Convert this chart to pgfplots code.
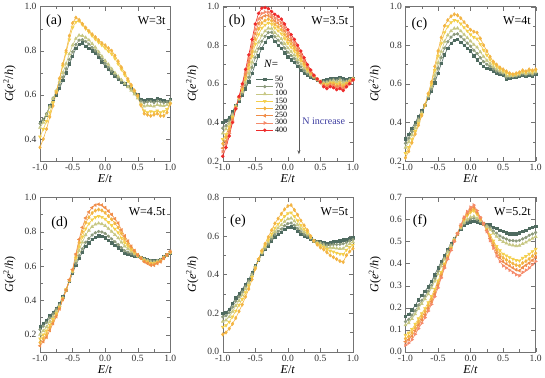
\documentclass[border=0pt]{standalone}
\usepackage{fontspec}
\setmainfont{Liberation Serif}
\usepackage{pgfplots}
\usepackage{pgfplotstable}
\pgfplotsset{compat=1.18}
\usepgfplotslibrary{groupplots}
\usetikzlibrary{arrows.meta}

\definecolor{c50}{HTML}{4F6B60}
\definecolor{c70}{HTML}{8C9A7C}
\definecolor{c100}{HTML}{C7C783}
\definecolor{c150}{HTML}{F4CF4C}
\definecolor{c200}{HTML}{F3B443}
\definecolor{c250}{HTML}{F08C48}
\definecolor{c300}{HTML}{F58A6A}
\definecolor{c400}{HTML}{EE2B2B}
\definecolor{annblue}{HTML}{3C3CA0}

\pgfplotsset{
  s50/.style={color=c50, mark=square*, mark size=1.2pt},
  s70/.style={color=c70, mark=*, mark size=1.3pt},
  s100/.style={color=c100, mark=triangle*, mark size=1.6pt},
  s150/.style={color=c150, mark=triangle*, mark size=1.6pt, mark options={rotate=180}},
  s200/.style={color=c200, mark=diamond*, mark size=1.6pt},
  s250/.style={color=c250, mark=triangle*, mark size=1.6pt, mark options={rotate=90}},
  s300/.style={color=c300, mark=triangle*, mark size=1.6pt, mark options={rotate=-90}},
  s400/.style={color=c400, mark=*, mark size=1.4pt},
}

% panel (a) W=3t
\pgfplotstableread{
x n50 n70 n100 n150 n200
-1.00 0.476 0.470 0.452 0.410 0.362
-0.95 0.490 0.488 0.475 0.445 0.400
-0.90 0.510 0.515 0.508 0.480 0.445
-0.85 0.550 0.548 0.545 0.520 0.500
-0.80 0.580 0.585 0.582 0.565 0.550
-0.75 0.600 0.612 0.620 0.615 0.610
-0.70 0.630 0.645 0.660 0.672 0.675
-0.65 0.665 0.680 0.700 0.730 0.740
-0.60 0.700 0.718 0.742 0.790 0.800
-0.55 0.740 0.760 0.785 0.850 0.868
-0.50 0.775 0.795 0.825 0.905 0.925
-0.45 0.810 0.828 0.855 0.930 0.950
-0.40 0.830 0.848 0.870 0.935 0.940
-0.35 0.835 0.850 0.868 0.918 0.922
-0.30 0.820 0.842 0.860 0.900 0.905
-0.25 0.812 0.830 0.848 0.885 0.890
-0.20 0.800 0.815 0.832 0.868 0.875
-0.15 0.790 0.800 0.815 0.852 0.862
-0.10 0.770 0.782 0.795 0.838 0.848
-0.05 0.750 0.762 0.775 0.825 0.835
0.00 0.730 0.742 0.755 0.812 0.825
0.05 0.715 0.725 0.738 0.798 0.812
0.10 0.700 0.708 0.718 0.785 0.800
0.15 0.685 0.692 0.700 0.765 0.778
0.20 0.670 0.676 0.684 0.740 0.752
0.25 0.660 0.664 0.668 0.715 0.725
0.30 0.650 0.650 0.652 0.690 0.700
0.35 0.640 0.638 0.636 0.662 0.672
0.40 0.630 0.625 0.620 0.638 0.645
0.45 0.615 0.610 0.603 0.615 0.620
0.50 0.600 0.592 0.585 0.592 0.598
0.55 0.580 0.572 0.560 0.555 0.552
0.60 0.575 0.565 0.548 0.528 0.515
0.65 0.580 0.568 0.552 0.520 0.510
0.70 0.580 0.570 0.550 0.525 0.505
0.75 0.575 0.565 0.548 0.522 0.510
0.80 0.585 0.572 0.555 0.528 0.515
0.85 0.580 0.568 0.552 0.520 0.505
0.90 0.575 0.565 0.550 0.525 0.505
0.95 0.570 0.568 0.555 0.535 0.520
1.00 0.580 0.575 0.565 0.560 0.560
}\tabA

% panel (b) W=3.5t
\pgfplotstableread{
x n50 n70 n100 n150 n200 n250 n300 n400
-1.00 0.400 0.370 0.344 0.313 0.290 0.267 0.248 0.225
-0.95 0.412 0.384 0.366 0.338 0.323 0.302 0.290 0.270
-0.90 0.425 0.409 0.395 0.378 0.365 0.353 0.342 0.330
-0.85 0.455 0.446 0.437 0.428 0.420 0.413 0.407 0.400
-0.80 0.490 0.487 0.484 0.480 0.477 0.475 0.473 0.470
-0.75 0.512 0.518 0.521 0.525 0.528 0.530 0.532 0.535
-0.70 0.540 0.550 0.559 0.570 0.578 0.586 0.592 0.600
-0.65 0.575 0.592 0.607 0.625 0.638 0.651 0.662 0.675
-0.60 0.610 0.634 0.655 0.680 0.698 0.716 0.732 0.750
-0.55 0.655 0.685 0.711 0.743 0.765 0.788 0.807 0.830
-0.50 0.700 0.736 0.767 0.805 0.832 0.860 0.883 0.910
-0.45 0.745 0.782 0.815 0.855 0.884 0.912 0.936 0.965
-0.40 0.785 0.820 0.851 0.889 0.915 0.942 0.965 0.992
-0.35 0.815 0.846 0.873 0.905 0.928 0.952 0.972 0.995
-0.30 0.840 0.866 0.888 0.915 0.935 0.954 0.971 0.990
-0.25 0.845 0.867 0.887 0.910 0.927 0.944 0.958 0.975
-0.20 0.820 0.844 0.865 0.890 0.908 0.926 0.942 0.960
-0.15 0.800 0.826 0.848 0.875 0.895 0.914 0.931 0.950
-0.10 0.785 0.811 0.833 0.860 0.880 0.899 0.916 0.935
-0.05 0.760 0.786 0.808 0.835 0.855 0.874 0.891 0.910
0.00 0.740 0.764 0.785 0.810 0.828 0.846 0.862 0.880
0.05 0.725 0.747 0.767 0.790 0.807 0.824 0.838 0.855
0.10 0.710 0.730 0.748 0.770 0.786 0.801 0.814 0.830
0.15 0.690 0.709 0.725 0.745 0.759 0.774 0.786 0.800
0.20 0.670 0.687 0.702 0.720 0.733 0.746 0.757 0.770
0.25 0.655 0.669 0.681 0.695 0.705 0.716 0.725 0.735
0.30 0.645 0.654 0.663 0.673 0.680 0.687 0.693 0.700
0.35 0.635 0.641 0.647 0.654 0.658 0.663 0.667 0.672
0.40 0.630 0.633 0.635 0.638 0.639 0.641 0.643 0.645
0.45 0.620 0.621 0.622 0.623 0.623 0.624 0.624 0.625
0.50 0.610 0.612 0.608 0.611 0.606 0.613 0.609 0.610
0.55 0.615 0.610 0.605 0.600 0.596 0.592 0.589 0.585
0.60 0.620 0.612 0.606 0.598 0.592 0.586 0.581 0.575
0.65 0.625 0.618 0.612 0.605 0.600 0.595 0.590 0.585
0.70 0.630 0.622 0.614 0.605 0.599 0.592 0.587 0.580
0.75 0.628 0.618 0.609 0.599 0.591 0.584 0.578 0.570
0.80 0.635 0.625 0.616 0.605 0.597 0.589 0.583 0.575
0.85 0.625 0.615 0.606 0.595 0.587 0.579 0.573 0.565
0.90 0.620 0.614 0.609 0.603 0.598 0.593 0.590 0.585
0.95 0.625 0.621 0.617 0.613 0.609 0.606 0.603 0.600
1.00 0.630 0.628 0.627 0.625 0.624 0.622 0.621 0.620
}\tabB

% panel (c) W=4t
\pgfplotstableread{
x n50 n70 n100 n150 n200
-1.00 0.315 0.292 0.270 0.240 0.217
-0.95 0.340 0.319 0.299 0.271 0.250
-0.90 0.370 0.353 0.336 0.312 0.295
-0.85 0.400 0.386 0.372 0.354 0.340
-0.80 0.430 0.420 0.409 0.395 0.385
-0.75 0.460 0.454 0.449 0.441 0.435
-0.70 0.490 0.492 0.487 0.491 0.490
-0.65 0.525 0.531 0.537 0.544 0.550
-0.60 0.560 0.572 0.583 0.599 0.610
-0.55 0.605 0.625 0.644 0.670 0.690
-0.50 0.655 0.681 0.708 0.744 0.770
-0.45 0.705 0.736 0.767 0.809 0.840
-0.40 0.750 0.785 0.819 0.866 0.900
-0.35 0.785 0.818 0.852 0.897 0.930
-0.30 0.810 0.842 0.874 0.918 0.950
-0.25 0.825 0.856 0.887 0.929 0.960
-0.20 0.830 0.859 0.888 0.926 0.955
-0.15 0.815 0.844 0.873 0.911 0.940
-0.10 0.800 0.828 0.855 0.892 0.920
-0.05 0.785 0.811 0.838 0.874 0.900
0.00 0.770 0.795 0.821 0.855 0.880
0.05 0.745 0.774 0.803 0.841 0.870
0.10 0.725 0.757 0.789 0.833 0.865
0.15 0.705 0.735 0.765 0.805 0.835
0.20 0.690 0.715 0.741 0.775 0.800
0.25 0.680 0.701 0.721 0.749 0.770
0.30 0.675 0.690 0.705 0.725 0.740
0.35 0.665 0.677 0.688 0.704 0.715
0.40 0.655 0.665 0.676 0.690 0.700
0.45 0.650 0.658 0.666 0.677 0.685
0.50 0.645 0.652 0.659 0.668 0.675
0.55 0.625 0.634 0.643 0.656 0.665
0.60 0.630 0.636 0.642 0.649 0.655
0.65 0.635 0.638 0.642 0.647 0.650
0.70 0.635 0.640 0.644 0.650 0.655
0.75 0.640 0.645 0.649 0.655 0.660
0.80 0.645 0.651 0.657 0.664 0.670
0.85 0.640 0.646 0.652 0.659 0.665
0.90 0.645 0.652 0.659 0.668 0.675
0.95 0.640 0.647 0.654 0.663 0.670
1.00 0.650 0.656 0.662 0.669 0.675
}\tabC

% panel (d) W=4.5t
\pgfplotstableread{
x n50 n70 n100 n150 n200 n250
-1.00 0.245 0.230 0.201 0.177 0.154 0.135
-0.95 0.265 0.250 0.223 0.200 0.178 0.160
-0.90 0.285 0.271 0.245 0.223 0.202 0.185
-0.85 0.310 0.298 0.276 0.257 0.239 0.225
-0.80 0.330 0.321 0.304 0.290 0.276 0.265
-0.75 0.355 0.348 0.335 0.324 0.314 0.305
-0.70 0.380 0.376 0.368 0.361 0.355 0.350
-0.65 0.420 0.418 0.414 0.411 0.408 0.405
-0.60 0.460 0.462 0.457 0.463 0.458 0.460
-0.55 0.510 0.511 0.514 0.516 0.518 0.520
-0.50 0.560 0.563 0.568 0.572 0.577 0.580
-0.45 0.605 0.614 0.631 0.645 0.659 0.670
-0.40 0.645 0.660 0.689 0.713 0.736 0.755
-0.35 0.680 0.700 0.738 0.770 0.800 0.825
-0.30 0.715 0.738 0.781 0.817 0.852 0.880
-0.25 0.735 0.760 0.807 0.847 0.884 0.915
-0.20 0.755 0.781 0.829 0.870 0.909 0.940
-0.15 0.768 0.794 0.843 0.884 0.923 0.955
-0.10 0.775 0.801 0.849 0.890 0.929 0.960
-0.05 0.772 0.798 0.845 0.885 0.924 0.955
0.00 0.765 0.790 0.835 0.874 0.910 0.940
0.05 0.750 0.774 0.818 0.855 0.891 0.920
0.10 0.735 0.758 0.801 0.837 0.872 0.900
0.15 0.720 0.742 0.782 0.816 0.849 0.875
0.20 0.705 0.725 0.763 0.795 0.825 0.850
0.25 0.690 0.707 0.738 0.764 0.790 0.810
0.30 0.675 0.689 0.715 0.737 0.758 0.775
0.35 0.670 0.681 0.700 0.717 0.732 0.745
0.40 0.665 0.672 0.685 0.696 0.707 0.715
0.45 0.660 0.664 0.672 0.679 0.685 0.690
0.50 0.655 0.656 0.659 0.661 0.663 0.665
0.55 0.650 0.649 0.648 0.647 0.646 0.645
0.60 0.645 0.642 0.637 0.633 0.628 0.625
0.65 0.640 0.636 0.630 0.625 0.619 0.615
0.70 0.635 0.631 0.623 0.616 0.610 0.605
0.75 0.632 0.628 0.621 0.615 0.610 0.605
0.80 0.635 0.632 0.627 0.623 0.618 0.615
0.85 0.640 0.638 0.634 0.631 0.628 0.625
0.90 0.655 0.654 0.651 0.649 0.647 0.645
0.95 0.665 0.667 0.663 0.666 0.664 0.665
1.00 0.675 0.676 0.679 0.681 0.683 0.685
}\tabD

% panel (e) W=5t
\pgfplotstableread{
x n50 n70 n100 n150 n200
-1.00 0.200 0.181 0.157 0.129 0.090
-0.95 0.205 0.187 0.164 0.137 0.100
-0.90 0.220 0.203 0.181 0.155 0.120
-0.85 0.250 0.232 0.209 0.182 0.145
-0.80 0.280 0.262 0.239 0.212 0.175
-0.75 0.300 0.285 0.265 0.242 0.210
-0.70 0.325 0.311 0.294 0.273 0.245
-0.65 0.350 0.339 0.325 0.308 0.285
-0.60 0.375 0.367 0.356 0.343 0.325
-0.55 0.410 0.404 0.396 0.387 0.375
-0.50 0.445 0.442 0.439 0.435 0.430
-0.45 0.475 0.476 0.477 0.478 0.480
-0.40 0.505 0.508 0.513 0.518 0.525
-0.35 0.530 0.535 0.542 0.550 0.560
-0.30 0.550 0.558 0.568 0.579 0.595
-0.25 0.575 0.584 0.596 0.611 0.630
-0.20 0.595 0.607 0.622 0.641 0.665
-0.15 0.610 0.624 0.641 0.662 0.690
-0.10 0.620 0.636 0.657 0.682 0.715
-0.05 0.635 0.653 0.675 0.702 0.738
0.00 0.645 0.664 0.688 0.717 0.755
0.05 0.648 0.667 0.692 0.721 0.760
0.10 0.640 0.656 0.677 0.702 0.735
0.15 0.625 0.639 0.658 0.680 0.710
0.20 0.610 0.622 0.637 0.656 0.680
0.25 0.600 0.609 0.621 0.636 0.655
0.30 0.595 0.601 0.609 0.618 0.630
0.35 0.585 0.588 0.591 0.595 0.600
0.40 0.575 0.577 0.573 0.576 0.575
0.45 0.572 0.569 0.565 0.561 0.555
0.50 0.570 0.565 0.558 0.551 0.540
0.55 0.565 0.559 0.551 0.542 0.530
0.60 0.560 0.552 0.542 0.531 0.515
0.65 0.565 0.554 0.540 0.523 0.500
0.70 0.570 0.556 0.539 0.518 0.490
0.75 0.572 0.556 0.536 0.512 0.480
0.80 0.575 0.557 0.534 0.507 0.470
0.85 0.580 0.560 0.535 0.505 0.465
0.90 0.580 0.566 0.549 0.528 0.500
0.95 0.585 0.574 0.560 0.543 0.520
1.00 0.590 0.581 0.569 0.554 0.535
}\tabE

% panel (f) W=5.2t
\pgfplotstableread{
x n50 n70 n100 n150 n200 n250 n300
-1.00 0.160 0.137 0.121 0.076 0.060 0.046 0.030
-0.95 0.170 0.147 0.131 0.086 0.070 0.056 0.040
-0.90 0.190 0.166 0.150 0.102 0.086 0.071 0.055
-0.85 0.210 0.187 0.171 0.126 0.110 0.096 0.080
-0.80 0.235 0.212 0.196 0.151 0.135 0.121 0.105
-0.75 0.255 0.233 0.218 0.174 0.159 0.145 0.130
-0.70 0.275 0.253 0.239 0.197 0.183 0.169 0.155
-0.65 0.295 0.275 0.262 0.224 0.210 0.198 0.185
-0.60 0.320 0.301 0.289 0.252 0.239 0.228 0.215
-0.55 0.350 0.332 0.320 0.285 0.273 0.262 0.250
-0.50 0.380 0.364 0.353 0.322 0.311 0.301 0.290
-0.45 0.410 0.397 0.388 0.361 0.352 0.344 0.335
-0.40 0.435 0.425 0.419 0.399 0.393 0.387 0.380
-0.35 0.465 0.457 0.452 0.436 0.430 0.425 0.420
-0.30 0.490 0.485 0.481 0.471 0.467 0.464 0.460
-0.25 0.515 0.512 0.511 0.505 0.503 0.502 0.500
-0.20 0.535 0.537 0.533 0.536 0.534 0.537 0.535
-0.15 0.555 0.559 0.561 0.568 0.570 0.573 0.575
-0.10 0.575 0.581 0.586 0.598 0.602 0.606 0.610
-0.05 0.585 0.594 0.600 0.618 0.624 0.629 0.635
0.00 0.590 0.602 0.610 0.632 0.640 0.647 0.655
0.05 0.592 0.605 0.614 0.639 0.648 0.656 0.665
0.10 0.590 0.599 0.605 0.623 0.629 0.634 0.640
0.15 0.585 0.590 0.593 0.601 0.604 0.607 0.610
0.20 0.580 0.582 0.578 0.581 0.579 0.582 0.580
0.25 0.578 0.572 0.568 0.557 0.553 0.549 0.545
0.30 0.575 0.562 0.554 0.530 0.521 0.513 0.505
0.35 0.565 0.548 0.537 0.503 0.492 0.481 0.470
0.40 0.560 0.538 0.523 0.479 0.464 0.450 0.435
0.45 0.550 0.525 0.508 0.459 0.442 0.427 0.410
0.50 0.545 0.517 0.499 0.444 0.426 0.409 0.390
0.55 0.540 0.511 0.492 0.436 0.417 0.399 0.380
0.60 0.535 0.505 0.486 0.428 0.408 0.390 0.370
0.65 0.535 0.504 0.483 0.421 0.400 0.381 0.360
0.70 0.535 0.502 0.480 0.415 0.393 0.372 0.350
0.75 0.540 0.505 0.482 0.413 0.390 0.368 0.345
0.80 0.545 0.512 0.490 0.425 0.403 0.382 0.360
0.85 0.550 0.518 0.496 0.433 0.411 0.392 0.370
0.90 0.560 0.528 0.506 0.443 0.421 0.402 0.380
0.95 0.565 0.534 0.514 0.455 0.434 0.415 0.395
1.00 0.570 0.541 0.522 0.466 0.447 0.429 0.410
}\tabF

\begin{document}
\begin{tikzpicture}
\begin{groupplot}[
  group style={group size=3 by 2, horizontal sep=52bp, vertical sep=36bp},
  scale only axis,
  width=129bp, height=153bp,
  xmin=-1, xmax=1,
  xtick={-1,-0.5,0,0.5,1},
  minor x tick num=1,
  tick align=inside,
  xtick pos=both, ytick pos=both,
  xticklabel pos=bottom, yticklabel pos=left,
  axis line style={black!55},
  tick style={black!55},
  /pgf/number format/assume math mode=true,
  xticklabel style={/pgf/number format/.cd, fixed, fixed zerofill, precision=1},
  yticklabel style={/pgf/number format/.cd, fixed, fixed zerofill, precision=1},
  tick label style={font=\fontsize{9.5}{9.5}\selectfont, text=black!80},
  label style={font=\fontsize{12}{12}\selectfont},
  xlabel={\textit{E}/\textit{t}},
  ylabel={\textit{G}(\textit{e}\textsuperscript{2}/\textit{h})},
  xlabel style={yshift=3pt},
  ylabel style={yshift=2pt},
  every axis plot/.append style={line width=0.6pt},
]
% (a)
\nextgroupplot[ymin=0.3, ymax=1.0, ytick={0.4,0.6,0.8,1.0}, minor y tick num=1]
\addplot[s50] table[x=x, y=n50] {\tabA};
\addplot[s70] table[x=x, y=n70] {\tabA};
\addplot[s100] table[x=x, y=n100] {\tabA};
\addplot[s150] table[x=x, y=n150] {\tabA};
\addplot[s200] table[x=x, y=n200] {\tabA};
\node[anchor=north west, font=\fontsize{14}{14}\selectfont] at (rel axis cs:0.02,0.97) {(a)};
\node[anchor=north east, font=\fontsize{12}{12}\selectfont] at (rel axis cs:0.99,0.96) {W=3t};
% (b)
\nextgroupplot[ymin=0.2, ymax=1.0, ytick={0.2,0.4,0.6,0.8,1.0}, minor y tick num=1,
  legend style={draw=none, fill=none, at={(axis cs:-0.54,0.66)}, anchor=north west,
    font=\fontsize{8}{8}\selectfont, row sep=-2.6pt, legend cell align=left,
    nodes={inner sep=1.5pt}}]
\addplot[s50] table[x=x, y=n50] {\tabB}; \addlegendentry{50}
\addplot[s70] table[x=x, y=n70] {\tabB}; \addlegendentry{70}
\addplot[s100] table[x=x, y=n100] {\tabB}; \addlegendentry{100}
\addplot[s150] table[x=x, y=n150] {\tabB}; \addlegendentry{150}
\addplot[s200] table[x=x, y=n200] {\tabB}; \addlegendentry{200}
\addplot[s250] table[x=x, y=n250] {\tabB}; \addlegendentry{250}
\addplot[s300] table[x=x, y=n300] {\tabB}; \addlegendentry{300}
\addplot[s400] table[x=x, y=n400] {\tabB}; \addlegendentry{400}
\node[anchor=north west, font=\fontsize{14}{14}\selectfont] at (rel axis cs:0.02,0.97) {(b)};
\node[anchor=north east, font=\fontsize{12}{12}\selectfont] at (rel axis cs:0.99,0.96) {W=3.5t};
\node[anchor=west, font=\fontsize{11}{11}\selectfont] at (axis cs:-0.42,0.705) {\textit{N}=};
\draw[-{Stealth[length=4pt]}, black!65, line width=0.6pt] (axis cs:0.17,0.69) -- (axis cs:0.17,0.235);
\node[anchor=west, text=annblue, font=\fontsize{10}{10}\selectfont, inner sep=0pt] at (axis cs:0.22,0.405) {N increase};
% (c)
\nextgroupplot[ymin=0.2, ymax=1.0, ytick={0.2,0.4,0.6,0.8,1.0}, minor y tick num=1]
\addplot[s50] table[x=x, y=n50] {\tabC};
\addplot[s70] table[x=x, y=n70] {\tabC};
\addplot[s100] table[x=x, y=n100] {\tabC};
\addplot[s150] table[x=x, y=n150] {\tabC};
\addplot[s200] table[x=x, y=n200] {\tabC};
\node[anchor=north west, font=\fontsize{14}{14}\selectfont] at (rel axis cs:0.02,0.95) {(c)};
\node[anchor=north east, font=\fontsize{12}{12}\selectfont] at (rel axis cs:0.99,0.96) {W=4t};
% (d)
\nextgroupplot[ymin=0.1, ymax=1.0, ytick={0.2,0.4,0.6,0.8,1.0}, minor y tick num=1]
\addplot[s50] table[x=x, y=n50] {\tabD};
\addplot[s70] table[x=x, y=n70] {\tabD};
\addplot[s100] table[x=x, y=n100] {\tabD};
\addplot[s150] table[x=x, y=n150] {\tabD};
\addplot[s200] table[x=x, y=n200] {\tabD};
\addplot[s250] table[x=x, y=n250] {\tabD};
\node[anchor=north west, font=\fontsize{14}{14}\selectfont] at (rel axis cs:0.06,0.90) {(d)};
\node[anchor=north east, font=\fontsize{12}{12}\selectfont] at (rel axis cs:0.99,0.96) {W=4.5t};
% (e)
\nextgroupplot[ymin=0, ymax=0.8, ytick={0,0.2,0.4,0.6,0.8}, minor y tick num=1]
\addplot[s50] table[x=x, y=n50] {\tabE};
\addplot[s70] table[x=x, y=n70] {\tabE};
\addplot[s100] table[x=x, y=n100] {\tabE};
\addplot[s150] table[x=x, y=n150] {\tabE};
\addplot[s200] table[x=x, y=n200] {\tabE};
\node[anchor=north west, font=\fontsize{14}{14}\selectfont] at (rel axis cs:0.03,0.91) {(e)};
\node[anchor=north east, font=\fontsize{12}{12}\selectfont] at (rel axis cs:0.99,0.96) {W=5t};
% (f)
\nextgroupplot[ymin=0, ymax=0.7, ytick={0,0.1,0.2,0.3,0.4,0.5,0.6,0.7}]
\addplot[s50] table[x=x, y=n50] {\tabF};
\addplot[s70] table[x=x, y=n70] {\tabF};
\addplot[s100] table[x=x, y=n100] {\tabF};
\addplot[s150] table[x=x, y=n150] {\tabF};
\addplot[s200] table[x=x, y=n200] {\tabF};
\addplot[s250] table[x=x, y=n250] {\tabF};
\addplot[s300] table[x=x, y=n300] {\tabF};
\node[anchor=north west, font=\fontsize{14}{14}\selectfont] at (rel axis cs:0.03,0.91) {(f)};
\node[anchor=north east, font=\fontsize{12}{12}\selectfont] at (rel axis cs:0.99,0.96) {W=5.2t};
\end{groupplot}
\end{tikzpicture}
\end{document}
